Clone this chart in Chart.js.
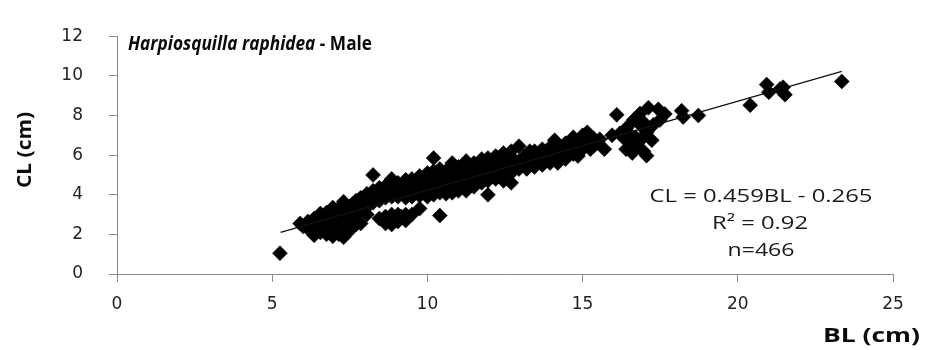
<!DOCTYPE html>
<html>
<head>
<meta charset="utf-8">
<script src="https://cdn.jsdelivr.net/npm/chart.js@4.4.0/dist/chart.umd.min.js"></script>
<style>
html,body{margin:0;padding:0;background:#fff;}
canvas{display:block;}
</style>
</head>
<body>
<canvas id="c" width="942" height="350"></canvas>
<script>
// Body length (BL, cm) and carapace length (CL, cm), column by column
const BL = [
  5.25,
  5.9, 6.0,
  6.15, 6.15, 6.25,
  6.35, 6.35, 6.35, 6.45,
  6.55, 6.55, 6.55, 6.65,
  6.75, 6.75, 6.75, 6.75, 6.85,
  6.95, 6.95, 6.95, 6.95, 7.05, 7.05,
  7.15, 7.15, 7.15, 7.15, 7.25,
  7.3, 7.3, 7.3, 7.4,
  7.5, 7.5, 7.5, 7.5, 7.6, 7.6,
  7.7, 7.7, 7.7, 7.7,
  7.85, 7.85, 7.85, 7.95,
  8.05, 8.05, 8.05, 8.05, 8.15,
  8.25, 8.25, 8.25, 8.25, 8.35,
  8.45, 8.45, 8.45, 8.45, 8.55,
  8.65, 8.65, 8.65, 8.65, 8.65, 8.75,
  8.85, 8.85, 8.85, 8.85, 8.85, 8.85, 8.95,
  9.05, 9.05, 9.05, 9.05, 9.05, 9.15,
  9.3, 9.3, 9.3, 9.3, 9.3, 9.3,
  9.5, 9.5, 9.5, 9.5, 9.5, 9.6,
  9.75, 9.75, 9.75, 9.75, 9.75, 9.9,
  10.0, 10.0, 10.0, 10.0, 10.0, 10.1,
  10.2, 10.2, 10.2, 10.2, 10.2, 10.3,
  10.4, 10.4, 10.4, 10.4, 10.4, 10.5,
  10.6, 10.6, 10.6, 10.6, 10.7,
  10.8, 10.8, 10.8, 10.8, 10.8, 10.9,
  11.0, 11.0, 11.0, 11.0, 11.1,
  11.25, 11.25, 11.25, 11.25, 11.25, 11.4,
  11.5, 11.5, 11.5, 11.5, 11.6,
  11.75, 11.75, 11.75, 11.75, 11.85,
  11.95, 11.95, 11.95, 11.95, 11.95, 12.1,
  12.2, 12.2, 12.2, 12.2, 12.35,
  12.45, 12.45, 12.45, 12.45, 12.45, 12.6,
  12.7, 12.7, 12.7, 12.7, 12.7, 12.85,
  12.95, 12.95, 12.95, 13.1,
  13.2, 13.2, 13.2, 13.3,
  13.45, 13.45, 13.45, 13.6,
  13.7, 13.7, 13.7, 13.85,
  13.95, 13.95, 13.95,
  14.1, 14.1,
  14.2, 14.2, 14.2, 14.35,
  14.45, 14.45, 14.45, 14.6,
  14.7, 14.7, 14.7,
  14.85, 14.85, 14.9,
  15.0, 15.0, 15.0, 15.1,
  15.15, 15.15, 15.25,
  15.35, 15.35, 15.45,
  15.55,
  15.7,
  15.95,
  16.1,
  16.3, 16.42, 16.53, 16.64, 16.74, 16.85, 16.96, 17.06, 17.06, 17.23, 17.12, 17.44, 17.65, 17.49, 17.28,
  16.2, 16.5, 16.7, 16.9, 16.6, 16.4, 17.0, 16.85,
  18.19, 18.24, 18.73,
  20.4, 20.93, 21.0, 21.36, 21.46, 21.52,
  23.35
];
const CL = [
  1.05,
  2.55, 2.4,
  2.65, 2.3, 2.5,
  1.95, 2.35, 2.8, 2.6,
  2.1, 2.5, 3.05, 2.7,
  2.0, 2.4, 2.8, 3.1, 2.9,
  1.9, 2.3, 2.7, 3.35, 2.5, 3.1,
  2.0, 2.6, 3.0, 3.3, 2.8,
  1.85, 2.25, 3.65, 3.2,
  2.2, 2.6, 3.0, 3.4, 2.4, 3.55,
  2.5, 2.9, 3.3, 3.7,
  2.55, 3.5, 3.85, 3.2,
  3.0, 3.4, 3.7, 4.05, 3.8,
  3.6, 3.9, 4.2, 5.0, 4.0,
  3.7, 4.0, 4.35, 2.8, 4.2,
  2.55, 2.9, 3.85, 4.15, 4.45, 2.75,
  2.5, 3.0, 3.9, 4.2, 4.5, 4.8, 2.8,
  2.65, 3.0, 3.9, 4.3, 4.6, 2.9,
  2.7, 3.0, 3.85, 4.15, 4.45, 4.75,
  3.0, 3.9, 4.2, 4.5, 4.8, 4.35,
  3.3, 3.95, 4.3, 4.6, 4.95, 4.6,
  3.9, 4.2, 4.5, 4.8, 5.1, 4.3,
  4.0, 4.4, 4.8, 5.2, 5.85, 4.7,
  2.95, 4.1, 4.5, 4.9, 5.3, 5.0,
  4.05, 4.4, 4.8, 5.2, 4.6,
  4.1, 4.5, 4.9, 5.3, 5.6, 4.8,
  4.2, 4.6, 5.0, 5.4, 5.2,
  4.2, 4.6, 5.0, 5.4, 5.7, 5.0,
  4.4, 4.8, 5.2, 5.6, 5.4,
  4.6, 5.0, 5.4, 5.8, 5.2,
  4.0, 4.7, 5.1, 5.5, 5.85, 5.4,
  4.8, 5.2, 5.6, 5.95, 5.6,
  4.7, 5.05, 5.4, 5.8, 6.1, 5.7,
  4.6, 5.1, 5.5, 5.9, 6.2, 5.5,
  5.3, 5.7, 6.45, 5.9,
  5.3, 5.65, 6.0, 6.2,
  5.4, 5.8, 6.2, 6.1,
  5.5, 5.9, 6.3, 6.2,
  5.6, 6.0, 6.4,
  6.75, 6.2,
  5.6, 6.0, 6.4, 6.4,
  5.8, 6.2, 6.6, 6.3,
  6.05, 6.5, 6.9,
  5.95, 6.3, 6.6,
  6.3, 6.7, 7.0, 6.9,
  7.15, 6.6, 6.3,
  6.45, 6.85, 6.6,
  6.8,
  6.3,
  7.0,
  8.03,
  6.9, 7.38, 6.67, 7.77, 6.44, 7.53, 6.2, 5.97, 7.14, 6.75, 8.39, 8.31, 8.08, 7.77, 7.53,
  7.1, 7.1, 6.9, 6.8, 6.1, 6.3, 7.6, 8.1,
  8.24, 7.92, 8.0,
  8.52, 9.56, 9.17, 9.33, 9.42, 9.05,
  9.72
];
// Fitted line end points as they appear in the picture
const trendBL = [5.27, 23.35];
const trendCL = [2.1, 10.22];

const xTicks = [0, 5, 10, 15, 20, 25];
const yTicks = [0, 2, 4, 6, 8, 10, 12];

const titleSpecies = 'Harpiosquilla raphidea';
const titleSex = ' - Male';
const xTitle = 'BL (cm)';
const yTitle = 'CL (cm)';
const eqLines = ['CL = 0.459BL - 0.265', 'R\u00B2 = 0.92', 'n=466'];

const points = BL.map((b, i) => ({ x: b, y: CL[i] }));
const trend = trendBL.map((b, i) => ({ x: b, y: trendCL[i] }));

function drawFit(ctx, text, font, x, y, align, width, color) {
  ctx.save();
  ctx.font = font;
  const m = ctx.measureText(text).width;
  const sx = width ? width / m : 1;
  ctx.translate(x, y);
  ctx.scale(sx, 1);
  ctx.textAlign = align;
  ctx.textBaseline = 'alphabetic';
  ctx.fillStyle = color;
  ctx.fillText(text, 0, 0);
  ctx.restore();
}

const textPlugin = {
  id: 'texts',
  afterDraw(chart) {
    const ctx = chart.ctx;
    // Title (species italic + sex)
    ctx.save();
    const f1 = 'italic bold 20px "Open Sans"';
    const f2 = 'bold 20px "Open Sans"';
    ctx.font = f1; const w1 = ctx.measureText(titleSpecies).width;
    ctx.font = f2; const w2 = ctx.measureText(titleSex).width;
    const sx = 244 / (w1 + w2);
    ctx.translate(128, 50);
    ctx.scale(sx, 1);
    ctx.fillStyle = '#0a0a0a';
    ctx.textAlign = 'left';
    ctx.textBaseline = 'alphabetic';
    ctx.font = f1; ctx.fillText(titleSpecies, 0, 0);
    ctx.font = f2; ctx.fillText(titleSex, w1, 0);
    ctx.restore();

    // Y axis title (rotated)
    ctx.save();
    ctx.font = 'bold 19px "Open Sans"';
    const my = ctx.measureText(yTitle).width;
    ctx.translate(30.5, 150);
    ctx.rotate(-Math.PI / 2);
    ctx.scale(76 / my, 1);
    ctx.textAlign = 'center';
    ctx.textBaseline = 'alphabetic';
    ctx.fillStyle = '#0a0a0a';
    ctx.fillText(yTitle, 0, 0);
    ctx.restore();

    // X axis title
    drawFit(ctx, xTitle, 'bold 19px "Open Sans"', 920, 342, 'right', 97, '#0a0a0a');

    // Equation block
    const eqFont = '18px "Open Sans"';
    drawFit(ctx, eqLines[0], eqFont, 761, 201.5, 'center', 223, '#1a1a1a');
    drawFit(ctx, eqLines[1], eqFont, 760, 229, 'center', 96, '#1a1a1a');
    drawFit(ctx, eqLines[2], eqFont, 761, 256, 'center', 67, '#1a1a1a');
  }
};

const axisGray = '#8a8a8a';

new Chart(document.getElementById('c'), {
  type: 'scatter',
  data: {
    datasets: [
      {
        label: 'Trend',
        data: trend,
        showLine: true,
        borderColor: '#111',
        borderWidth: 1.3,
        pointRadius: 0,
        fill: false,
        order: 0
      },
      {
        label: 'Male',
        data: points,
        pointStyle: 'rectRot',
        pointRadius: 7.5,
        backgroundColor: '#000',
        borderColor: '#000',
        borderWidth: 0.5,
        order: 1
      }
    ]
  },
  options: {
    responsive: false,
    animation: false,
    events: [],
    layout: { padding: { left: 0, right: 49, top: 18, bottom: 0 } },
    plugins: { legend: { display: false }, tooltip: { enabled: false }, title: { display: false } },
    scales: {
      x: {
        type: 'linear',
        min: 0, max: 25,
        afterBuildTicks: s => { s.ticks = xTicks.map(v => ({ value: v })); },
        afterFit: s => { s.height = 76; },
        grid: { drawOnChartArea: false, drawTicks: true, tickLength: 8, color: axisGray, lineWidth: 1 },
        border: { display: true, color: axisGray, width: 1 },
        ticks: { padding: 12, color: '#222', font: { family: 'DejaVu Sans', size: 17 }, maxRotation: 0 }
      },
      y: {
        type: 'linear',
        min: 0, max: 12,
        afterBuildTicks: s => { s.ticks = yTicks.map(v => ({ value: v })); },
        afterFit: s => { s.width = 117; },
        grid: { drawOnChartArea: false, drawTicks: true, tickLength: 8, color: axisGray, lineWidth: 1 },
        border: { display: true, color: axisGray, width: 1 },
        ticks: { padding: 26, color: '#222', font: { family: 'DejaVu Sans', size: 17 } }
      }
    }
  },
  plugins: [textPlugin]
});
</script>
</body>
</html>
